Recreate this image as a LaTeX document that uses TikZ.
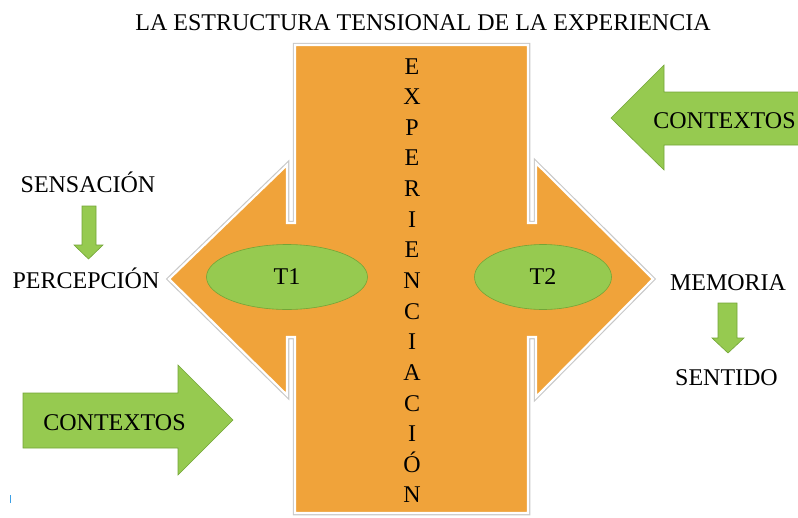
\documentclass[tikz,border=0pt]{standalone}
\usepackage{fontspec}
\setmainfont{Liberation Serif}
\usetikzlibrary{shapes.geometric}
\definecolor{orng}{RGB}{240,163,58}
\definecolor{grn}{RGB}{150,202,80}
\definecolor{grnb}{RGB}{115,165,55}
\definecolor{cursorblue}{RGB}{60,160,230}
\definecolor{edgegray}{RGB}{200,200,200}
\begin{document}
\begin{tikzpicture}[x=1pt,y=-1pt,
  lbl/.style={font=\fontsize{24}{28}\selectfont, inner sep=0pt, anchor=base},
  garrow/.style={fill=grn, draw=grnb, line width=0.6pt},
  oval/.style={ellipse, fill=grn, draw=grnb, line width=0.6pt, inner sep=0pt,
    font=\fontsize{24}{28}\selectfont},
  shapeedge/.style={draw=edgegray, line width=4.5pt, line join=miter},
  bigshape/.style={fill=orng, draw=white, line width=2.2pt, line join=miter}]
\useasboundingbox (0,0) rectangle (798,517);

% central cross shape: rectangle with double arrow
\def\crosspath{(295,45) -- (295,223) -- (287,223) -- (287,165) -- (169,279)
  -- (287,395) -- (287,337) -- (295,337) -- (295,513) -- (528,513)
  -- (528,337) -- (536,337) -- (536,397) -- (653,279) -- (536,163)
  -- (536,223) -- (528,223) -- (528,45) -- cycle}
\draw[shapeedge] \crosspath;
\draw[bigshape] \crosspath;

% vertical word
\foreach \l [count=\i from 0] in {E,X,P,E,R,I,E,N,C,I,A,C,I,Ó,N}
  \node[lbl] (v\i) at (412,74+30.64*\i) {\l};

% tension ovals
\node[oval, minimum width=161pt, minimum height=65pt] (t1) at (287,277) {T1};
\node[oval, minimum width=137pt, minimum height=65pt] (t2) at (543,277) {T2};

% title
\node[lbl] (title) at (423,30) {LA ESTRUCTURA TENSIONAL DE LA EXPERIENCIA};

% left side
\node[lbl] (sens) at (88,192) {SENSACIÓN};
\node[lbl] (perc) at (86,288) {PERCEPCIÓN};
\draw[garrow] (82,206) -- (96,206) -- (96,245) -- (103,245) -- (88.5,259)
  -- (74,245) -- (82,245) -- cycle;

% left contextos arrow
\draw[garrow] (23,393) -- (178,393) -- (178,365) -- (233,420) -- (178,475)
  -- (178,448) -- (23,448) -- cycle;
\node[lbl] (ctx1) at (114.5,430) {CONTEXTOS};

% right contextos arrow
\draw[garrow] (802,92) -- (664,92) -- (664,65) -- (611,118) -- (664,170)
  -- (664,145) -- (802,145) -- cycle;
\node[lbl] (ctx2) at (724.5,128) {CONTEXTOS};

% right side
\node[lbl] (mem) at (728,290) {MEMORIA};
\node[lbl] (sent) at (726.5,385) {SENTIDO};
\draw[garrow] (718,303) -- (737,303) -- (737,338) -- (744,338) -- (728,353)
  -- (712,338) -- (718,338) -- cycle;

% small cursor mark
\draw[cursorblue, line width=0.8pt] (10,495) -- (10,503);
\end{tikzpicture}
\end{document}
